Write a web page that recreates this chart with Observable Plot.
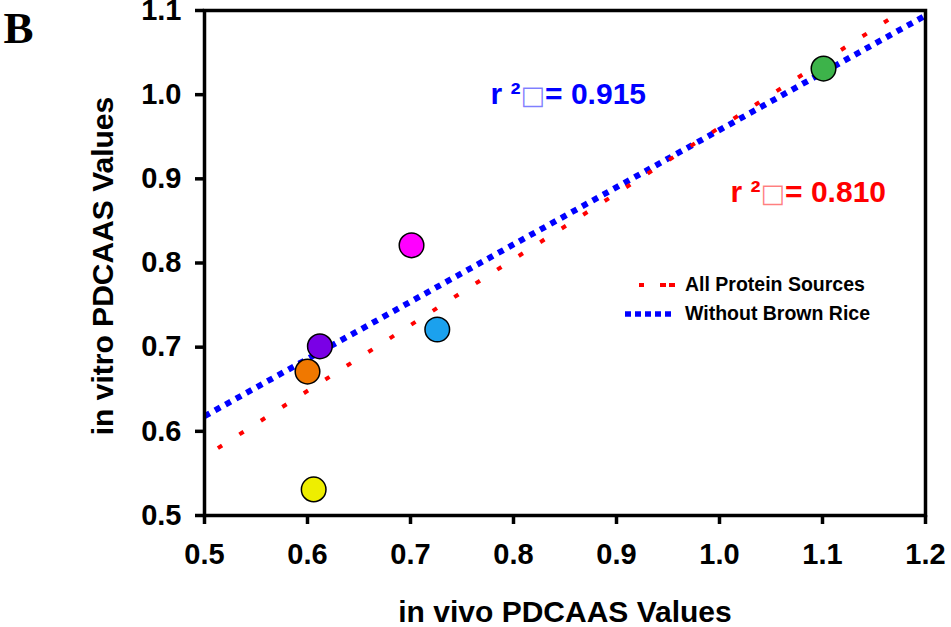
<!DOCTYPE html>
<html>
<head>
<meta charset="utf-8">
<script src="https://cdn.jsdelivr.net/npm/d3@7"></script>
<script src="https://cdn.jsdelivr.net/npm/@observablehq/plot@0.6"></script>
<style>
  html, body { margin: 0; padding: 0; background: #fff; }
  #chart { position: relative; width: 951px; height: 627px; font-family: "Liberation Sans", Arial, sans-serif; }
  #legend { position: absolute; left: 620px; top: 270px; font-weight: bold; font-size: 19.5px; color: #000; }
  #legend div { display: flex; align-items: center; height: 29px; }
  #legend svg { width: 60px; height: 10px; margin-right: 5px; }
</style>
</head>
<body>
<div id="chart"></div>
<script>
// ---- data ----
const sourceX = [1.101, 0.701, 0.726, 0.612, 0.600, 0.606];
const sourceY = [1.031, 0.821, 0.721, 0.701, 0.671, 0.531];
const sourceColor = ["#3db34a", "#ff00ff", "#1ba1ee", "#7a00e6", "#f07800", "#eeee00"];

const allFitX = [0.513, 1.178];
const allFitY = [0.580, 1.100];
const noRiceFitX = [0.500, 1.200];
const noRiceFitY = [0.618, 1.094];

const xTicks = [0.5, 0.6, 0.7, 0.8, 0.9, 1.0, 1.1, 1.2];
const yTicks = [0.5, 0.6, 0.7, 0.8, 0.9, 1.0, 1.1];

const xTitle = "in vivo PDCAAS Values";
const yTitle = "in vitro PDCAAS Values";
const panelLabel = "B";
const r2All = "r \u00b2\u25a1= 0.810";
const r2NoRice = "r \u00b2\u25a1= 0.915";
const legendLabels = ["All Protein Sources", "Without Brown Rice"];

// ---- build ----
const points = sourceX.map((x, i) => ({x, y: sourceY[i], c: sourceColor[i]}));
const allFit = allFitX.map((x, i) => ({x, y: allFitY[i]}));
const noRiceFit = noRiceFitX.map((x, i) => ({x, y: noRiceFitY[i]}));

const font = "Liberation Sans, Arial, sans-serif";

const chart = Plot.plot({
  width: 951,
  height: 627,
  marginLeft: 204,
  marginRight: 26,
  marginTop: 10,
  marginBottom: 112,
  style: {fontFamily: font, background: "#fff", color: "#000", overflow: "visible"},
  x: {domain: [0.5, 1.2]},
  y: {domain: [0.5, 1.1]},
  marks: [
    Plot.line(noRiceFit, {x: "x", y: "y", stroke: "#0000ff", strokeWidth: 6, strokeDasharray: "6,6", strokeLinecap: "butt"}),
    Plot.line(allFit, {x: "x", y: "y", stroke: "#ff0000", strokeWidth: 4, strokeDasharray: "5,20.5", strokeLinecap: "butt"}),
    Plot.dot(points, {x: "x", y: "y", r: 12.3, fill: "c", stroke: "#000", strokeWidth: 1.5}),
    Plot.frame({stroke: "#000", strokeWidth: 3.5}),
    Plot.axisX({ticks: xTicks, tickFormat: d3.format(".1f"), tickSize: 9, tickPadding: 19, strokeWidth: 3.5,
      fontSize: 29, fontWeight: "bold", label: null}),
    Plot.axisY({ticks: yTicks, tickFormat: d3.format(".1f"), tickSize: 9, tickPadding: 14, strokeWidth: 3.5,
      fontSize: 29, fontWeight: "bold", label: null}),
    Plot.text([xTitle], {text: d => d, frameAnchor: "bottom", lineAnchor: "bottom", dy: 106.5, dx: 0,
      fontSize: 30, fontWeight: "bold", fill: "#000"}),
    Plot.text([yTitle], {text: d => d, frameAnchor: "left", rotate: -90, lineAnchor: "bottom", textAnchor: "middle", dx: -92, dy: 3,
      fontSize: 30, fontWeight: "bold", fill: "#000"}),
    Plot.text([panelLabel], {text: d => d, frameAnchor: "top-left", textAnchor: "start", lineAnchor: "bottom", dx: -201, dy: 32,
      fontSize: 45, fontWeight: "bold", fontFamily: "Liberation Serif, Times New Roman, serif", fill: "#000"}),
    Plot.text([r2NoRice], {text: d => d, frameAnchor: "top-left", textAnchor: "start", lineAnchor: "bottom", dx: 286, dy: 93,
      fontSize: 30, fontWeight: "bold", fill: "#0000ff"}),
    Plot.text([r2All], {text: d => d, frameAnchor: "top-left", textAnchor: "start", lineAnchor: "bottom", dx: 526, dy: 191,
      fontSize: 30, fontWeight: "bold", fill: "#ff0000"})
  ]
});

const host = document.getElementById("chart");
host.appendChild(chart);

// make the boxed placeholder glyph thin like the original
chart.querySelectorAll("text").forEach(t => {
  if (t.textContent.includes("\u25a1")) {
    const full = t.textContent;
    const [a, b] = full.split("\u25a1");
    const tspans = t.querySelectorAll("tspan");
    const target = tspans.length ? tspans[0] : t;
    target.textContent = "";
    const ns = "http://www.w3.org/2000/svg";
    const s1 = document.createElementNS(ns, "tspan"); s1.textContent = a;
    const s2 = document.createElementNS(ns, "tspan"); s2.textContent = "\u25a1";
    s2.setAttribute("font-weight", "normal"); s2.setAttribute("fill-opacity", "0.5");
    s2.setAttribute("font-family", "DejaVu Sans"); s2.setAttribute("font-size", "26");
    const s3 = document.createElementNS(ns, "tspan"); s3.textContent = b;
    target.appendChild(s1); target.appendChild(s2); target.appendChild(s3);
  }
});

// legend
const legend = document.createElement("div");
legend.id = "legend";
legend.innerHTML = `
  <div><svg viewBox="0 0 60 10"><line x1="19" x2="56" y1="5" y2="5" stroke="#ff0000" stroke-width="4" stroke-dasharray="5,16,6,3,6,20"/></svg><span>${legendLabels[0]}</span></div>
  <div><svg viewBox="0 0 60 10"><line x1="5" x2="54" y1="5" y2="5" stroke="#0000ff" stroke-width="5.5" stroke-dasharray="6,4"/></svg><span>${legendLabels[1]}</span></div>`;
host.appendChild(legend);
</script>
</body>
</html>
